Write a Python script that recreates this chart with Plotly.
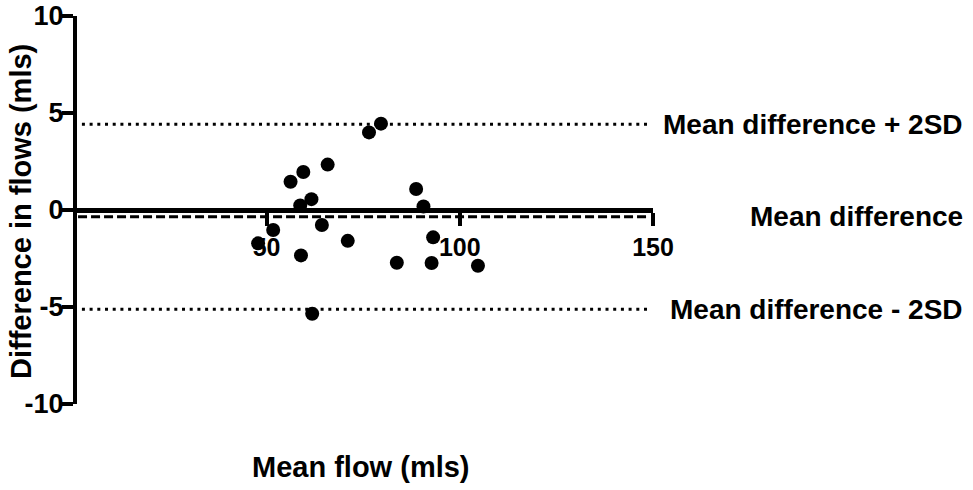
import plotly.graph_objects as go

# Data (Bland-Altman plot)
mean_flow = [79.6, 76.5, 65.8, 59.5, 56.2, 61.6, 58.7, 88.7, 90.6, 64.3,
             51.7, 47.8, 71.0, 93.1, 58.9, 83.7, 92.7, 104.7, 61.8]
diff_flow = [4.45, 4.00, 2.34, 1.96, 1.46, 0.56, 0.23, 1.08, 0.18, -0.77,
             -1.03, -1.72, -1.59, -1.41, -2.34, -2.72, -2.73, -2.87, -5.35]

mean_difference = -0.35
upper_limit = 4.42
lower_limit = -5.12

x_tick_vals = [50, 100, 150]
y_tick_vals = [-10, -5, 0, 5, 10]
line_labels = ["Mean difference + 2SD", "Mean difference", "Mean difference - 2SD"]
x_title = "Mean flow (mls)"
y_title = "Difference in flows (mls)"

FONT = "Liberation Sans"

fig = go.Figure()
fig.add_trace(go.Scatter(
    x=mean_flow, y=diff_flow, mode="markers",
    marker=dict(color="black", size=14, line=dict(width=0)),
    cliponaxis=False, showlegend=False, hoverinfo="x+y",
))

line_x0, line_x1 = 2.2, 148.6
shapes = [
    dict(type="line", xref="x", yref="y", x0=line_x0, x1=line_x1,
         y0=upper_limit, y1=upper_limit,
         line=dict(color="black", width=3, dash="3px,4.7px")),
    dict(type="line", xref="x", yref="y", x0=1.2, x1=line_x1,
         y0=mean_difference, y1=mean_difference,
         line=dict(color="black", width=3, dash="9px,4px")),
    dict(type="line", xref="x", yref="y", x0=line_x0, x1=line_x1,
         y0=lower_limit, y1=lower_limit,
         line=dict(color="black", width=3, dash="3px,4.7px")),
]

label_font = dict(family=FONT, size=28, color="black", weight="bold")
annotations = []
for lab, yv in zip(line_labels, [upper_limit, mean_difference, lower_limit]):
    annotations.append(dict(
        text=lab, xref="paper", yref="y", x=1.5409, y=yv,
        xanchor="right", yanchor="middle", showarrow=False, font=label_font,
    ))
annotations.append(dict(
    text=x_title, xref="paper", yref="paper", x=0.4928, y=-0.162,
    xanchor="center", yanchor="middle", showarrow=False,
    font=dict(family=FONT, size=29, color="black", weight="bold"),
))
annotations.append(dict(
    text=y_title, xref="paper", yref="paper", x=-0.0972, y=0.495,
    xanchor="center", yanchor="middle", showarrow=False, textangle=-90,
    font=dict(family=FONT, size=29, color="black", weight="bold"),
))

x_tick_font = dict(family=FONT, size=25, color="black", weight="bold")
y_tick_font = dict(family=FONT, size=27, color="black", weight="bold")

fig.update_layout(
    width=973, height=490,
    margin=dict(l=77, r=319.7, t=16, b=86, autoexpand=False),
    paper_bgcolor="white", plot_bgcolor="white",
    shapes=shapes, annotations=annotations,
    xaxis=dict(
        range=[0.93, 150], anchor="free", position=0.5,
        showgrid=False, zeroline=False, automargin=False,
        showline=True, linecolor="black", linewidth=4.5,
        ticks="outside", ticklen=13, tickwidth=4, tickcolor="black",
        tickvals=x_tick_vals, ticktext=[str(v) for v in x_tick_vals],
        tickfont=x_tick_font, ticklabeloverflow="allow",
    ),
    yaxis=dict(
        range=[-10, 10],
        showgrid=False, zeroline=False, automargin=False,
        showline=True, linecolor="black", linewidth=4,
        ticks="outside", ticklen=11, tickwidth=4, tickcolor="black",
        tickvals=y_tick_vals, ticktext=[str(v) for v in y_tick_vals],
        tickfont=y_tick_font, ticklabelstandoff=-7, ticklabeloverflow="allow",
    ),
)

# Remove the page's default body margin so the figure sits at the window's corner.
fig.write_html("out.html", config={"displayModeBar": False},
               post_script="document.body.style.margin='0';")
